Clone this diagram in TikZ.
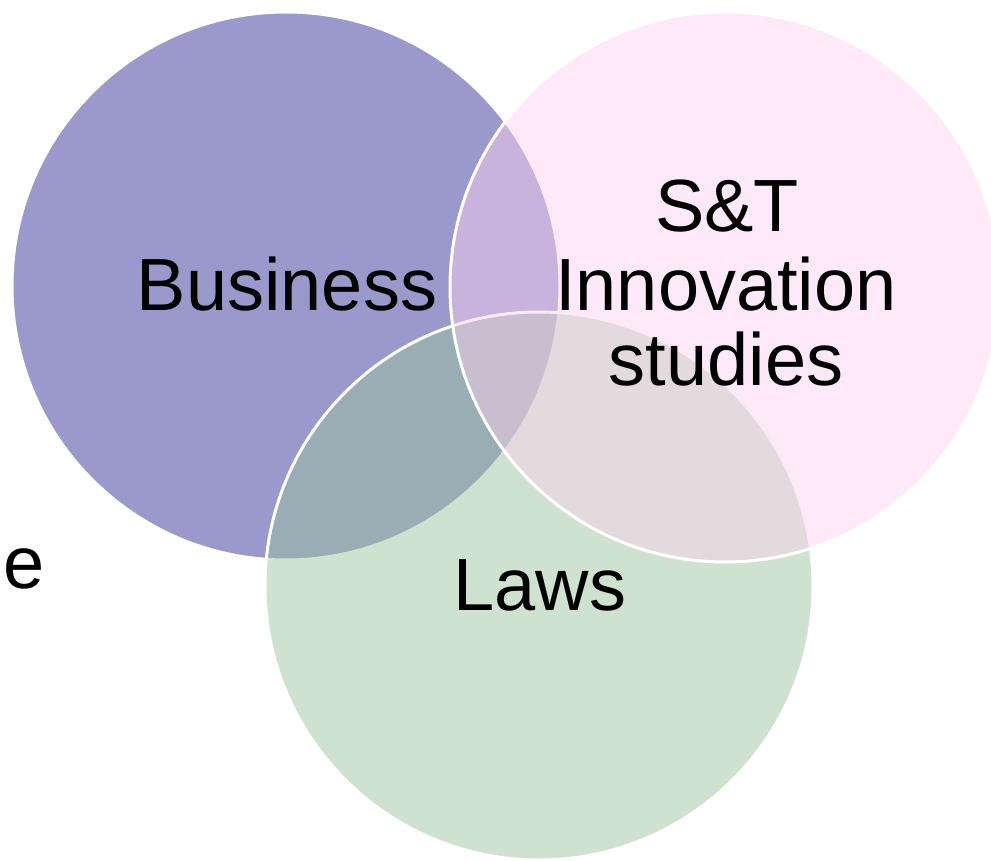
\documentclass[tikz,border=0pt]{standalone}
\usepackage{fontspec}
\setmainfont{Liberation Sans}
\begin{document}
\begin{tikzpicture}[x=1pt,y=-1pt,
  ring/.style={draw=white,line width=3pt},
  label/.style={font=\fontsize{74}{77}\selectfont,text=black,inner sep=0pt}]
\definecolor{bizc}{RGB}{153,153,204}
\definecolor{lawc}{RGB}{155,195,157}
\definecolor{stc}{RGB}{251,209,238}
\useasboundingbox (0,0) rectangle (991,861);
\begin{scope}
\clip (0,0) rectangle (991,861);
% three overlapping fields
\path[ring,fill=bizc] (286,286) circle (274);
\path[ring,fill=lawc,fill opacity=0.48] (539,586) circle (274);
\path[ring,fill=stc,fill opacity=0.48] (725,287) circle (275);
\end{scope}
\node[label,anchor=base] (biz) at (287,310) {Business};
\node[label,anchor=base,align=center] (st1) at (727,232) {S\&T};
\node[label,anchor=base] (st2) at (726,310) {Innovation};
\node[label,anchor=base] (st3) at (726,385) {studies};
\node[label,anchor=base] (law) at (540,610) {Laws};
\node[label,anchor=base west] (e) at (3,588) {e};
\end{tikzpicture}
\end{document}
